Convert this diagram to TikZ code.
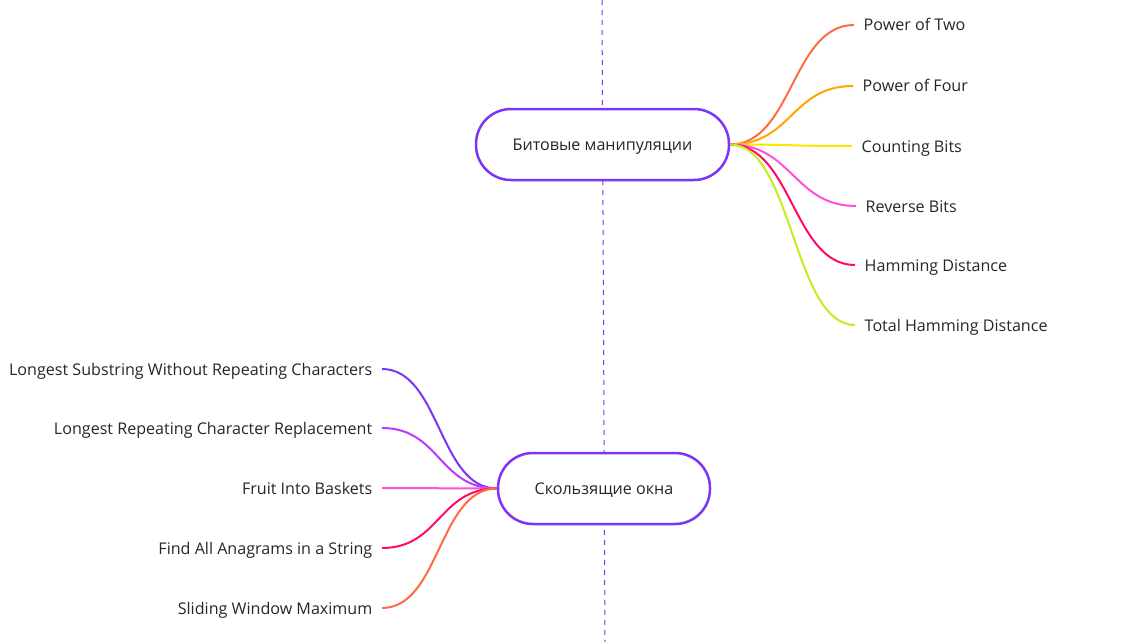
\documentclass[tikz,border=0pt]{standalone}
\usepackage{fontspec}
\setmainfont{Open Sans}
\usetikzlibrary{positioning}

\definecolor{topicpurple}{RGB}{124,52,246}
\definecolor{inktext}{RGB}{38,38,38}
\definecolor{redorange}{RGB}{255,107,66}
\definecolor{amber}{RGB}{255,166,0}
\definecolor{lemon}{RGB}{255,228,0}
\definecolor{hotpink}{RGB}{255,79,219}
\definecolor{crimson}{RGB}{255,10,108}
\definecolor{lime}{RGB}{197,236,28}
\definecolor{lilac}{RGB}{182,59,255}

\tikzset{
	topic/.style={draw=topicpurple,line width=2.5pt,fill=white,rounded corners=35pt,minimum height=71pt,text=inktext,font=\fontsize{16.1}{19}\selectfont,text height=15pt,text depth=3pt},
	leaf/.style={text=inktext,font=\fontsize{16.1}{19}\selectfont,inner xsep=9.5pt,inner ysep=2pt,text height=15pt,text depth=3pt},
	branch/.style={line width=2pt}
}

\begin{document}
\begin{tikzpicture}[x=1pt,y=-1pt]
		\useasboundingbox (0,0) rectangle (1144,642);
	
		% the axis behind the two topics
		\coordinate (axtop) at (602,0);
		\coordinate (axbot) at (605,642);
		\draw[topicpurple,line width=1pt,dash pattern=on 5pt off 5pt] (axtop) -- (axbot);
		
		\node[topic,minimum width=253pt] (bits) at (602.5,144.5) {Битовые манипуляции};
		\node[topic,minimum width=212pt] (window) at (604,488.5) {Скользящие окна};
		
		% right side
		\foreach \name/\x/\y/\col/\txt in {two/854/25/redorange/Power of Two,four/853/86/amber/Power of Four,count/852/146/lemon/Counting Bits,rev/856/206/hotpink/Reverse Bits,ham/855/265/crimson/Hamming Distance,total/855/325/lime/Total Hamming Distance}{
			\node[leaf,anchor=west] (\name) at (\x,\y) {\txt};
			\draw[branch,\col] (bits.east) .. controls +(62,0) and +(-62,0) .. (\name.west);
		}
		
		% left side
		\foreach \name/\y/\col/\txt in {substr/369/topicpurple/Longest Substring Without Repeating Characters,repl/428/lilac/Longest Repeating Character Replacement,fruit/488/hotpink/Fruit Into Baskets,anagram/548/crimson/Find All Anagrams in a String,slide/608/redorange/Sliding Window Maximum}{
			\node[leaf,anchor=east] (\name) at (382,\y) {\txt};
			\draw[branch,\col] (window.west) .. controls +(-58,0) and +(58,0) .. (\name.east);
		}
	\end{tikzpicture}
\end{document}
